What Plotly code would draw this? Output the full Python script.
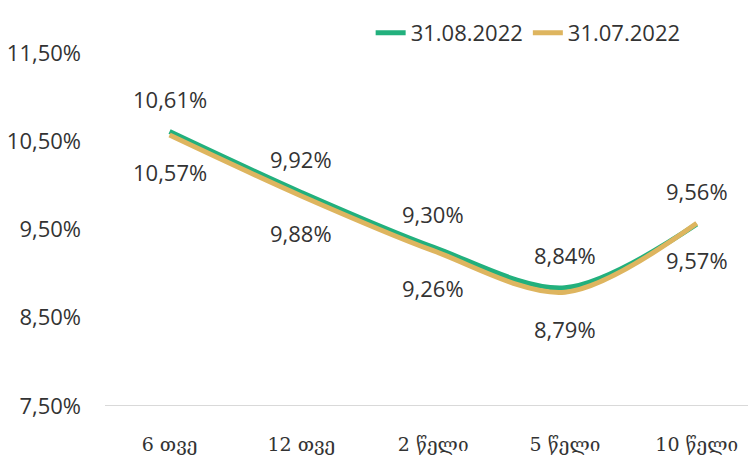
import plotly.graph_objects as go

# Maturity buckets and yields (%) for two dates
categories = ['6 თვე', '12 თვე', '2 წელი', '5 წელი', '10 წელი']
aug_2022 = [10.61, 9.92, 9.30, 8.84, 9.56]
jul_2022 = [10.57, 9.88, 9.26, 8.79, 9.57]
y_ticks = [7.5, 8.5, 9.5, 10.5, 11.5]
y_tick_text = ['7,50%', '8,50%', '9,50%', '10,50%', '11,50%']

green = '#22B07D'
gold = '#DEB55F'
text_color = '#333333'
num_font = 'Open Sans'


def pct(v):
    return f'{v:.2f}%'.replace('.', ',')


fig = go.Figure()
fig.add_trace(go.Scatter(x=categories, y=aug_2022, name='31.08.2022',
                         mode='lines',
                         line=dict(color=green, width=5, shape='spline', smoothing=0.9)))
fig.add_trace(go.Scatter(x=categories, y=jul_2022, name='31.07.2022',
                         mode='lines',
                         line=dict(color=gold, width=5, shape='spline', smoothing=0.9)))

# data labels: August above the line, July below
for c, v in zip(categories, aug_2022):
    fig.add_annotation(x=c, y=v, text=pct(v), showarrow=False, yshift=33,
                       font=dict(family=num_font, size=22, color=text_color))
for c, v in zip(categories, jul_2022):
    fig.add_annotation(x=c, y=v, text=pct(v), showarrow=False, yshift=-37,
                       font=dict(family=num_font, size=22, color=text_color))

# page body has an 8px margin, so the figure is a bit smaller than the window
fig.update_layout(
    width=748, height=454,
    margin=dict(l=97, r=0, t=45, b=56, autoexpand=False),
    paper_bgcolor='white', plot_bgcolor='white',
    font=dict(family=num_font, size=22, color=text_color),
    showlegend=True,
    legend=dict(orientation='h', x=0.65, xanchor='center', y=1.057, yanchor='middle',
                font=dict(family=num_font, size=22, color=text_color),
                itemwidth=30, tracegroupgap=0, bgcolor='rgba(0,0,0,0)'),
)
fig.update_xaxes(range=[-0.49, 4.45], showgrid=False, zeroline=False,
                 showline=False, ticks='', ticklabelstandoff=25,
                 tickfont=dict(family='DejaVu Serif', size=19, color=text_color))
fig.update_yaxes(range=[7.5, 11.5], tickvals=y_ticks, ticktext=y_tick_text,
                 showgrid=False, zeroline=False,
                 showline=False, ticks='', ticklabelstandoff=23,
                 tickfont=dict(family=num_font, size=22, color=text_color))
# baseline at the bottom of the plot
fig.add_shape(type='line', xref='paper', yref='y', x0=0, x1=1, y0=7.5, y1=7.5,
              line=dict(color='#D9D9D9', width=2), layer='below')

fig.write_html("out.html")
